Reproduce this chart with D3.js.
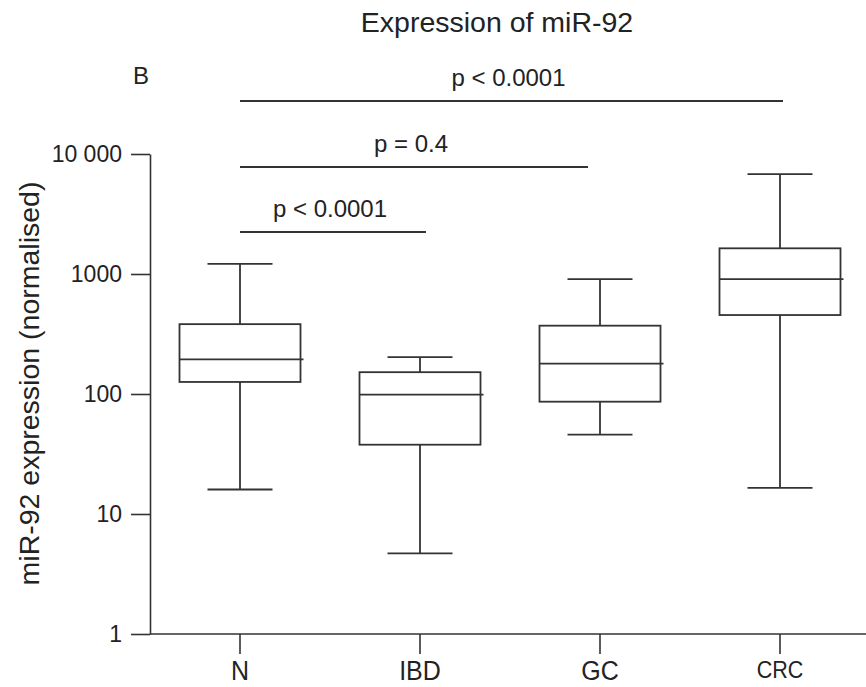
<!DOCTYPE html>
<html>
<head>
<meta charset="utf-8">
<script src="https://cdn.jsdelivr.net/npm/d3@7"></script>
<style>
  html, body { margin: 0; padding: 0; background: #fff; }
  svg { display: block; }
  text { font-family: "Liberation Sans", Arial, Helvetica, sans-serif; fill: #222; }
</style>
</head>
<body>
<svg id="chart" width="866" height="687"></svg>
<script>
// ---- data ----
const categories = ["N", "IBD", "GC", "CRC"];
const whiskerLow  = [16.0, 4.7, 45.8, 16.5];
const q1          = [126, 37.8, 86.3, 455];
const medians     = [194, 98.7, 179, 908];
const q3          = [382, 152, 371, 1637];
const whiskerHigh = [1215, 203, 908, 6800];
const yTickValues = [1, 10, 100, 1000, 10000];
const yTickLabels = ["1", "10", "100", "1000", "10 000"];
const compFrom   = ["N", "N", "N"];
const compTo     = ["CRC", "GC", "IBD"];
const compLabels = ["p < 0.0001", "p = 0.4", "p < 0.0001"];

const title = "Expression of miR-92";
const panelLetter = "B";
const yTitle = "miR-92 expression (normalised)";

// ---- layout ----
const svg = d3.select("#chart");
const stroke = "#333";
const axisX = 150, yTop = 154, yBottom = 634;

const x = d3.scaleBand().domain(categories).range([150, 870]).padding(0);
const xc = c => x(c) + x.bandwidth() / 2;
const y = d3.scaleLog().domain([1, 10000]).range([yBottom, yTop]);

// title
svg.append("text").attr("x", 497).attr("y", 32).attr("text-anchor", "middle")
  .style("font-size", "28.5px").text(title);
svg.append("text").attr("x", 133).attr("y", 84)
  .style("font-size", "24px").text(panelLetter);

// y axis
const yAxis = d3.axisLeft(y).tickValues(yTickValues)
  .tickFormat((d, i) => yTickLabels[i]).tickSize(19).tickPadding(9).tickSizeOuter(0);
const gy = svg.append("g").attr("transform", `translate(${axisX},0)`).call(yAxis);
gy.select(".domain").attr("stroke", stroke).attr("stroke-width", 1.6);
gy.selectAll(".tick line").attr("stroke", stroke).attr("stroke-width", 1.6);
gy.selectAll(".tick text").style("font-size", "23px").attr("fill", "#222")
  .style("font-family", "'Liberation Sans', Arial, sans-serif");

// x axis
const xAxis = d3.axisBottom(x).tickSize(20).tickPadding(10).tickSizeOuter(0);
const gx = svg.append("g").attr("transform", `translate(0,${yBottom})`).call(xAxis);
gx.select(".domain").attr("stroke", stroke).attr("stroke-width", 1.6)
  .attr("d", `M${axisX},0H866`);
gx.selectAll(".tick line").attr("stroke", stroke).attr("stroke-width", 1.6);
gx.selectAll(".tick text")
  .attr("y", 0).attr("dy", null)
  .attr("transform", d => d === "CRC" ? "translate(0,44) scale(1,1.08)" : "translate(0,45.5) scale(1,1.12)")
  .style("font-size", d => d === "CRC" ? "21.5px" : "25px")
  .attr("fill", "#222").style("font-family", "'Liberation Sans', Arial, sans-serif");

// y title
svg.append("text")
  .attr("transform", `translate(39,383.5) rotate(-90)`)
  .attr("text-anchor", "middle").style("font-size", "28.5px").text(yTitle);

// boxes
const boxW = 121, capW = 65;
const boxes = categories.map((c, i) => ({
  c, lo: whiskerLow[i], q1: q1[i], med: medians[i], q3: q3[i], hi: whiskerHigh[i]
}));
const g = svg.append("g").attr("stroke", stroke).attr("stroke-width", 1.8).attr("fill", "none");
boxes.forEach(b => {
  const cx = xc(b.c);
  g.append("line").attr("x1", cx).attr("x2", cx).attr("y1", y(b.hi)).attr("y2", y(b.q3));
  g.append("line").attr("x1", cx).attr("x2", cx).attr("y1", y(b.q1)).attr("y2", y(b.lo));
  g.append("line").attr("x1", cx - capW / 2).attr("x2", cx + capW / 2).attr("y1", y(b.hi)).attr("y2", y(b.hi));
  g.append("line").attr("x1", cx - capW / 2).attr("x2", cx + capW / 2).attr("y1", y(b.lo)).attr("y2", y(b.lo));
  g.append("rect").attr("x", cx - boxW / 2).attr("width", boxW)
    .attr("y", y(b.q3)).attr("height", y(b.q1) - y(b.q3)).attr("fill", "#fff");
  g.append("line").attr("x1", cx - boxW / 2).attr("x2", cx + boxW / 2 + 3)
    .attr("y1", y(b.med)).attr("y2", y(b.med));
});

// significance brackets
const lineYs = [101, 167, 232];
const endNudge = [3, -12, 6];
compLabels.forEach((lab, i) => {
  const x1 = xc(compFrom[i]), x2 = xc(compTo[i]) + endNudge[i];
  svg.append("line").attr("x1", x1).attr("x2", x2).attr("y1", lineYs[i]).attr("y2", lineYs[i])
    .attr("stroke", stroke).attr("stroke-width", 1.8);
  svg.append("text").attr("x", (x1 + x2) / 2 - 3).attr("y", lineYs[i] - 15)
    .attr("text-anchor", "middle").style("font-size", "24px").text(lab);
});
</script>
</body>
</html>
